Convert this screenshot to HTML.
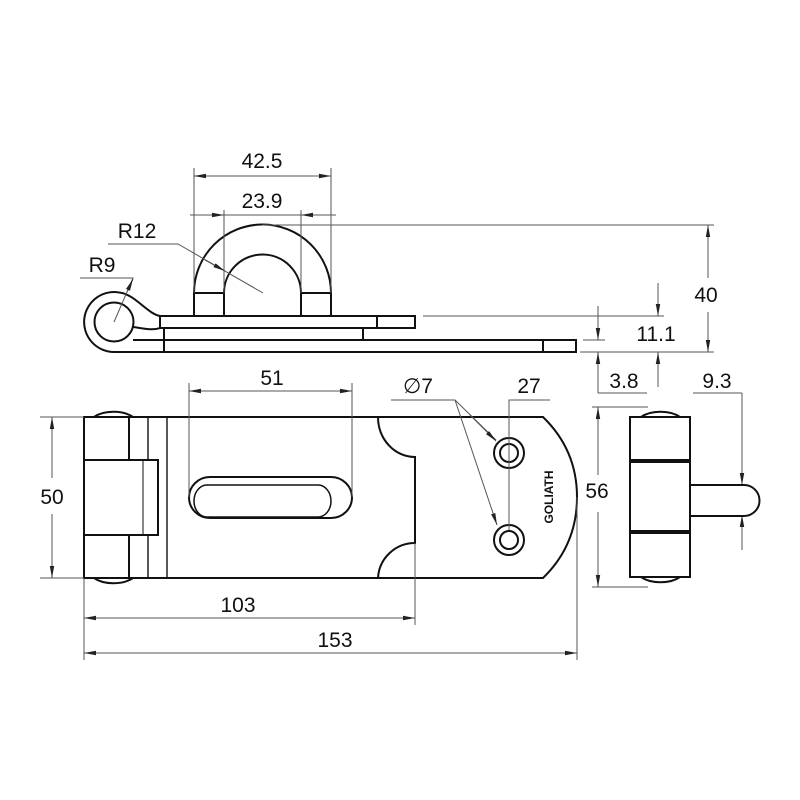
<!DOCTYPE html>
<html><head><meta charset="utf-8"><style>
html,body{margin:0;padding:0;background:#fff;}
svg{display:block;}
text{font-family:"Liberation Sans",Arial,sans-serif;fill:#111;}
</style></head><body>
<svg width="800" height="800" viewBox="0 0 800 800" xmlns="http://www.w3.org/2000/svg">
<defs>
<marker id="a" viewBox="0 0 12 6" refX="12" refY="3" markerWidth="12" markerHeight="6" markerUnits="userSpaceOnUse" orient="auto-start-reverse">
<path d="M0,0.8 L12,3 L0,5.2 Z" fill="#222"/>
</marker>
</defs>
<rect width="800" height="800" fill="#fff"/>

<!-- ===== TOP VIEW ===== -->
<g fill="none" stroke="#111" stroke-width="2">
  <path d="M194,293 A68.5,68.5 0 0 1 331,293"/>
  <path d="M224,293 A38.5,38.5 0 0 1 301,293"/>
  <rect x="194" y="293" width="30" height="23"/>
  <rect x="301" y="293" width="30" height="23"/>
  <rect x="160" y="316" width="217" height="12"/>
  <rect x="377" y="316" width="38" height="12"/>
  <rect x="164" y="328" width="199" height="12"/>
  <path d="M135,340 H576 V352 H135"/>
  <line x1="543" y1="340" x2="543" y2="352"/>
  <line x1="164" y1="328" x2="164" y2="352"/>
  <circle cx="114" cy="322" r="19.5"/>
  <path d="M144,352 H114 A30,30 0 1 1 121,292.8 C135,295 148,314 160,316"/>
  <path d="M133,327 C142,328 152,331 160,328"/>
  <line x1="133" y1="340" x2="164" y2="340"/>
</g>
<g stroke="#555" stroke-width="1" fill="none">
  <line x1="194" y1="168" x2="194" y2="293"/>
  <line x1="331" y1="168" x2="331" y2="293"/>
  <line x1="194" y1="176" x2="331" y2="176" marker-start="url(#a)" marker-end="url(#a)"/>
  <line x1="224" y1="210" x2="224" y2="293"/>
  <line x1="301" y1="210" x2="301" y2="293"/>
  <line x1="190" y1="215" x2="224" y2="215" marker-end="url(#a)"/>
  <line x1="224" y1="215" x2="301" y2="215"/>
  <line x1="336" y1="215" x2="301" y2="215" marker-end="url(#a)"/>
  <polyline points="108,244 178,244 263,293"/>
  <line x1="205" y1="260" x2="225" y2="271" marker-end="url(#a)"/>
  <polyline points="80,278 133,278 114,322"/>
  <line x1="127" y1="292" x2="133" y2="279" marker-end="url(#a)"/>
  <line x1="262" y1="225" x2="714" y2="225"/>
  <line x1="423" y1="316" x2="664" y2="316"/>
  <line x1="583" y1="340" x2="605" y2="340"/>
  <line x1="580" y1="352" x2="714" y2="352"/>
  <line x1="708" y1="225" x2="708" y2="278"/>
  <line x1="708" y1="312" x2="708" y2="352"/>
  <line x1="708" y1="240" x2="708" y2="225" marker-end="url(#a)"/>
  <line x1="708" y1="330" x2="708" y2="352" marker-end="url(#a)"/>
  <line x1="658" y1="283" x2="658" y2="316" marker-end="url(#a)"/>
  <line x1="658" y1="387" x2="658" y2="352" marker-end="url(#a)"/>
  <line x1="598" y1="306" x2="598" y2="340" marker-end="url(#a)"/>
  <line x1="598" y1="393" x2="598" y2="352" marker-end="url(#a)"/>
  <line x1="598" y1="393" x2="647" y2="393"/>
  <line x1="693" y1="393" x2="742" y2="393"/>
  <line x1="742" y1="393" x2="742" y2="485" marker-end="url(#a)"/>
  <line x1="742" y1="550" x2="742" y2="515" marker-end="url(#a)"/>
</g>
<g font-size="21" text-anchor="middle">
<text x="262" y="168">42.5</text>
<text x="262" y="208">23.9</text>
<text x="137" y="238">R12</text>
<text x="102" y="272">R9</text>
<text x="706" y="302">40</text>
<text x="656" y="341">11.1</text>
<text x="624" y="388">3.8</text>
<text x="717" y="388">9.3</text>
</g>

<!-- ===== FRONT VIEW ===== -->
<g fill="none" stroke="#111" stroke-width="2">
  <path d="M94,417 A25,14 0 0 1 133,417"/>
  <path d="M94,578 A25,14 0 0 0 133,578"/>
  <path d="M84,417 H543 Q577,450 577,497 Q577,545 543,578 H84 Z"/>
  <rect x="84" y="417" width="45" height="43"/>
  <rect x="84" y="535" width="45" height="43"/>
  <rect x="84" y="460" width="74" height="75"/>
  <line x1="143" y1="460" x2="143" y2="535" stroke-width="1"/>
  <line x1="148" y1="417" x2="148" y2="460" stroke-width="1.4"/>
  <line x1="148" y1="535" x2="148" y2="578" stroke-width="1.4"/>
  <line x1="167" y1="417" x2="167" y2="578" stroke-width="1.4"/>
  <path d="M378,417 A37,40 0 0 0 415,457 V543 A37,37 0 0 0 378,578" fill="#fff"/>
  <path d="M210,477 H331 A21,20.5 0 0 1 331,518 H210 A21,20.5 0 0 1 210,477 Z"/>
  <path d="M207,485 H318 A13,16 0 0 1 318,517 H207 A13,16 0 0 1 207,485 Z" stroke-width="1.5"/>
  <circle cx="509" cy="453" r="15"/>
  <circle cx="509" cy="453" r="9"/>
  <circle cx="509" cy="540" r="15"/>
  <circle cx="509" cy="540" r="9"/>
</g>
<text transform="translate(553,497) rotate(-90)" font-size="12" font-weight="bold" text-anchor="middle">GOLIATH</text>
<g stroke="#555" stroke-width="1" fill="none">
  <line x1="189" y1="383" x2="189" y2="497"/>
  <line x1="352" y1="383" x2="352" y2="497"/>
  <line x1="189" y1="391" x2="352" y2="391" marker-start="url(#a)" marker-end="url(#a)"/>
  <polyline points="391,400 455,400 496,440"/>
  <line x1="470" y1="415" x2="496" y2="441" marker-end="url(#a)"/>
  <line x1="455" y1="400" x2="497" y2="525" marker-end="url(#a)"/>
  <polyline points="550,400 509,400 509,530"/>
  <line x1="40" y1="417" x2="84" y2="417"/>
  <line x1="40" y1="578" x2="84" y2="578"/>
  <line x1="52" y1="478" x2="52" y2="417" marker-end="url(#a)"/>
  <line x1="52" y1="514" x2="52" y2="578" marker-end="url(#a)"/>
  <line x1="84" y1="578" x2="84" y2="660"/>
  <line x1="415" y1="543" x2="415" y2="625"/>
  <line x1="577" y1="497" x2="577" y2="660"/>
  <line x1="84" y1="618" x2="415" y2="618" marker-start="url(#a)" marker-end="url(#a)"/>
  <line x1="84" y1="653" x2="577" y2="653" marker-start="url(#a)" marker-end="url(#a)"/>
  <line x1="592" y1="407" x2="648" y2="407"/>
  <line x1="592" y1="587" x2="648" y2="587"/>
  <line x1="598" y1="475" x2="598" y2="407" marker-end="url(#a)"/>
  <line x1="598" y1="512" x2="598" y2="587" marker-end="url(#a)"/>
</g>
<g font-size="21" text-anchor="middle">
<text x="272" y="385">51</text>
<text x="418" y="393">∅7</text>
<text x="529" y="393">27</text>
<text x="52" y="504">50</text>
<text x="238" y="612">103</text>
<text x="335" y="647">153</text>
<text x="597" y="498">56</text>
</g>

<!-- ===== SIDE VIEW ===== -->
<g fill="none" stroke="#111" stroke-width="2">
  <path d="M641,417 A25,14 0 0 1 680,417"/>
  <path d="M641,577 A25,14 0 0 0 680,577"/>
  <rect x="630" y="417" width="60" height="43"/>
  <rect x="630" y="462" width="60" height="69"/>
  <rect x="630" y="533" width="60" height="44"/>
  <path d="M690,485 H744 A15.5,15.5 0 0 1 744,516 H690"/>
</g>
</svg>
</body></html>
